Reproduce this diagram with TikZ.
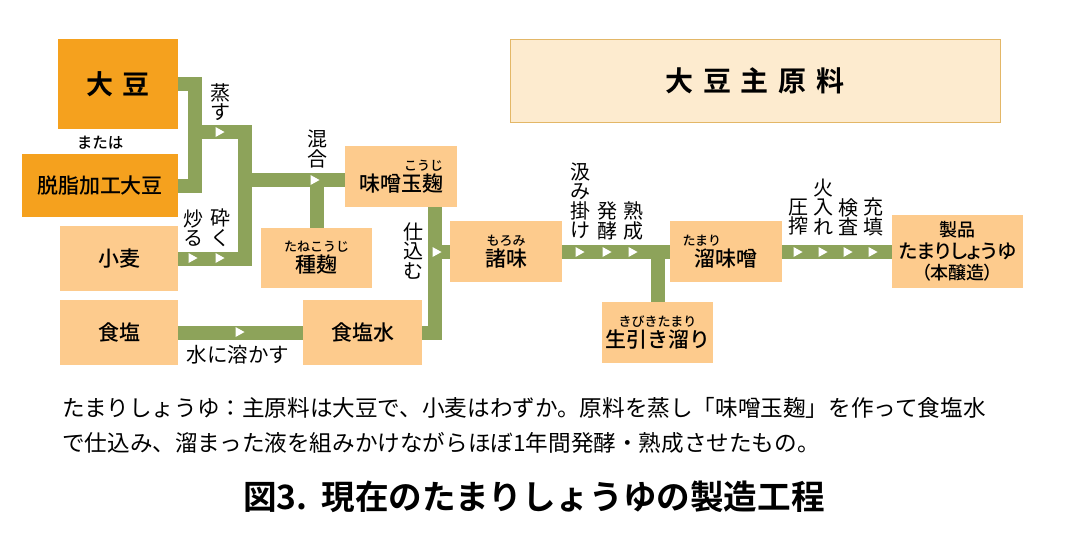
\documentclass[tikz,border=0pt]{standalone}
\usepackage{fontspec}
\setmainfont{Noto Sans CJK JP Medium}[BoldFont={Noto Sans CJK JP Bold}]
\newfontfamily\prop[RawFeature=+palt, BoldFont={Noto Sans CJK JP Bold}]{Noto Sans CJK JP Medium}
\newfontfamily\plain{Noto Sans CJK JP}
\usepackage{xcolor}
\definecolor{daidai}{HTML}{F5A11E}
\definecolor{usucha}{HTML}{FDCB8D}
\definecolor{koke}{HTML}{8DA35A}
\definecolor{kinari}{HTML}{FDEBCF}
\definecolor{kinwaku}{HTML}{E3B767}
\usetikzlibrary{calc,positioning}
\tikzset{
  raw/.style={rectangle, fill=daidai, inner sep=0pt, text=black, font=\fontsize{21}{23}\selectfont},
  stage/.style={rectangle, fill=usucha, inner sep=0pt, align=center, text=black, font=\fontsize{21}{21}\selectfont},
  kanban/.style={rectangle, draw=kinwaku, fill=kinari, line width=1pt, inner sep=0pt, font=\bfseries\fontsize{28}{30}\selectfont},
  pipe/.style={draw=koke, line width=14pt},
  verb/.style={align=center, inner sep=0pt, font=\plain\fontsize{20}{19.5}\selectfont},
  note/.style={inner sep=0pt, font=\fontsize{15.5}{16}\selectfont},
  body/.style={inner sep=0pt, anchor=base west, font=\plain\fontsize{22.6}{24}\selectfont},
  pointer/.pic={\fill[white] (-4.5,-5) -- (4.5,0) -- (-4.5,5) -- cycle;},
}
\newcommand{\rb}[1]{{\fontsize{13}{13}\selectfont #1}}

\begin{document}
\begin{tikzpicture}[x=1pt, y=-1pt]
   \useasboundingbox (0,0) rectangle (1087,549);
   % raw materials
   \node[raw, minimum width=120pt, minimum height=90pt, font=\bfseries\fontsize{27}{29}\selectfont] (daizu) at (118,84) {大\hspace{9pt}豆};
   \node[note] (mataha) at (100,143) {または};
   \node[raw, minimum width=156pt, minimum height=63pt] (dasshi) at (100,185.5) {脱脂加工大豆};
   \node[stage, minimum width=118pt, minimum height=65pt] (komugi) at (119,258.5) {小麦};
   \node[stage, minimum width=118pt, minimum height=65pt] (shokuen) at (119,332.5) {食塩};
   % intermediate stages
   \node[stage, minimum width=111pt, minimum height=60pt] (tanekoji) at (316.5,258) {\rb{たねこうじ}\\種麹};
   \node[stage, minimum width=112pt, minimum height=61pt, align=right] (misotama) at (401,176.5) {\rb{こうじ}\\味噌玉麹};
   \node[stage, minimum width=119pt, minimum height=65pt] (shokuensui) at (362.5,332.5) {食塩水};
   \node[stage, minimum width=112pt, minimum height=61pt] (moromi) at (506,251.5) {\rb{もろみ}\\諸味};
   \node[stage, minimum width=112pt, minimum height=61pt, align=left] (tamari) at (726,251.5) {\hspace*{-12pt}\rb{たまり}\\溜味噌};
   \node[stage, minimum width=111pt, minimum height=61pt] (kibiki) at (657.5,332.5) {\rb{きびきたまり}\\生引き溜り};
   \node[stage, minimum width=131pt, minimum height=73pt, font=\prop\fontsize{19.5}{21.5}\selectfont] (seihin) at (957.5,251.5) {{\fontsize{18}{18}\selectfont 製品}\\たまりしょうゆ\\{\fontsize{18}{18}\selectfont （本醸造）}};
   \node[kanban, minimum width=490pt, minimum height=83pt] (shugen) at (755,80.5) {大\hspace{10pt}豆\hspace{10pt}主\hspace{10pt}原\hspace{10pt}料};

   % junctions
   \coordinate (j1) at (195,132);
   \coordinate (j2) at (245,180);
   \coordinate (j3) at (435,252);

   \path[pipe]
     (daizu.east) -| (j1) |- (dasshi.east)
     (j1) -| (j2) |- (komugi.east)
     (j2) -- (j2 -| misotama.west)
     (tanekoji.north) -- (tanekoji.north |- j2)
     (misotama.south -| j3) |- (shokuensui.east)
     (j3) -- (j3 -| moromi.west)
     (shokuen.east) -- (shokuensui.west)
     (moromi.east) -- (tamari.west)
     (kibiki.north) -- (kibiki.north |- tamari.west)
     (tamari.east) -- (seihin.west);

   \foreach \x/\y in {220/132, 193/258, 220/258, 315/180, 437/252, 240/332,
                      580/252, 607/252, 633/252, 798/252, 823/252, 848/252, 873/252}
     \pic at (\x,\y) {pointer};

   % process labels
   \node[verb] (musu) at (220,102) {蒸\\す};
   \node[verb] (kongo) at (317,149) {混\\合};
   \node[verb] (iru) at (193,228) {炒\\る};
   \node[verb] (kudaku) at (220,228) {砕\\く};
   \node[verb] (shikomu) at (413,251) {仕\\込\\む};
   \node[verb, font=\plain\fontsize{20.5}{22}\selectfont] (tokasu) at (238,355) {水に溶かす};
   \node[verb] (kumikake) at (580,201) {汲\\み\\掛\\け};
   \node[verb] (hakko) at (607,221) {発\\酵};
   \node[verb] (jukusei) at (633,221) {熟\\成};
   \node[verb] (assaku) at (798,217) {圧\\搾};
   \node[verb] (hiire) at (823,207) {火\\入\\れ};
   \node[verb] (kensa) at (848,217) {検\\査};
   \node[verb] (juten) at (873,217) {充\\填};

   % caption
   \node[body] (expl1) at (62,416) {たまりしょうゆ：主原料は大豆で、小麦はわずか。原料を蒸し「味噌玉麹」を作って食塩水};
   \node[body] (expl2) at (62,451) {で仕込み、溜まった液を組みかけながらほぼ1年間発酵・熟成させたもの。};
   \node[inner sep=0pt, font=\bfseries\fontsize{33.6}{35}\selectfont] (title) at (534,497) {図3.\hspace{14pt}現在のたまりしょうゆの製造工程};
\end{tikzpicture}
\end{document}
